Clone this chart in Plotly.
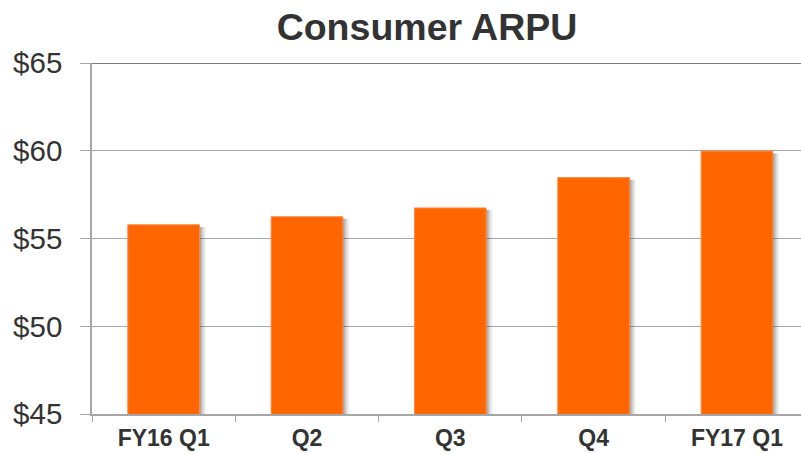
import plotly.graph_objects as go

quarters = ["FY16 Q1", "Q2", "Q3", "Q4", "FY17 Q1"]
arpu = [55.78, 56.24, 56.74, 58.47, 59.98]
y_ticks = [45, 50, 55, 60, 65]

y_min, y_max = 45, 65
orange = "#FF6600"
grey = "#A6A6A6"
text_col = "#333333"
font_fam = "Liberation Sans, Arial, sans-serif"

fig = go.Figure()

# soft drop shadow to the right of each bar, stacked layers fake a blur
for dx, alpha in [(0.045, 0.08), (0.032, 0.12), (0.02, 0.16), (0.01, 0.2)]:
    fig.add_trace(go.Bar(
        x=quarters,
        y=[v - 0.12 for v in arpu],
        width=0.5,
        offset=-0.25 + dx,
        marker=dict(color=f"rgba(60,60,60,{alpha})", line=dict(width=0)),
        hoverinfo="skip",
        showlegend=False
    ))

fig.add_trace(go.Bar(
    x=quarters,
    y=arpu,
    width=0.5,
    offset=-0.25,
    marker=dict(color=orange, line=dict(color="#FF8A45", width=1)),
    name="Consumer ARPU",
    showlegend=False
))

fig.update_layout(
    barmode="overlay",
    width=801,
    height=453,
    margin=dict(l=92, r=0, t=63, b=39),
    plot_bgcolor="white",
    paper_bgcolor="white",
    font=dict(family=font_fam, color=text_col),
    title=dict(
        text="<b>Consumer ARPU</b>",
        font=dict(size=37.5, color=text_col, family=font_fam),
        x=427 / 801,
        xanchor="center",
        xref="container",
        y=1 - 27 / 453,
        yanchor="middle",
        yref="container"
    ),
    shapes=[dict(
        type="line", xref="paper", x0=0, x1=1, yref="y", y0=y_max, y1=y_max,
        line=dict(color="#505050", width=1.5)
    )]
)

fig.update_xaxes(
    range=[-0.5, 4.447],
    automargin=False,
    tickson="boundaries",
    ticks="outside",
    ticklen=6,
    tickcolor=grey,
    showline=True,
    linecolor=grey,
    linewidth=1.5,
    ticklabelstandoff=3,
    tickfont=dict(size=23, color=text_col, family=font_fam, weight="bold"),
    showgrid=False
)
fig.update_yaxes(
    range=[y_min, y_max],
    automargin=False,
    tickvals=y_ticks,
    ticktext=[f"${t}" for t in y_ticks],
    ticks="outside",
    ticklen=10,
    tickcolor=grey,
    showline=True,
    linecolor=grey,
    linewidth=1.5,
    gridcolor=grey,
    gridwidth=1,
    zeroline=False,
    ticklabelstandoff=12,
    tickfont=dict(size=29.5, color=text_col, family=font_fam)
)

# drop the browser's default 8px body margin so the figure sits at 0,0
fig.write_html(
    "out.html",
    config={"displayModeBar": False},
    post_script="document.body.style.margin='0';"
)
